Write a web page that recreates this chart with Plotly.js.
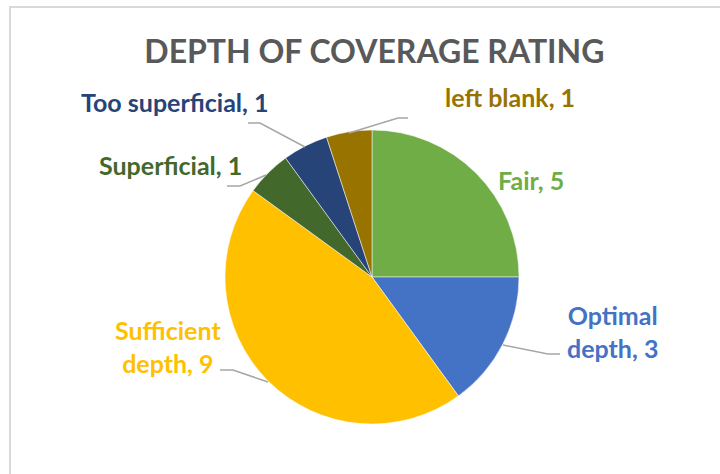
<!DOCTYPE html>
<html><head><meta charset="utf-8">
<script src="https://cdn.plot.ly/plotly-3.0.1.min.js"></script>
<style>html,body{margin:0;padding:0;background:#fff;}#frame{position:absolute;left:9px;top:6px;width:720px;height:480px;border-left:2px solid #d9d9d9;border-top:2px solid #d9d9d9;pointer-events:none;}</style>
</head><body>
<div id="chart" style="width:720px;height:474px;"></div>
<div id="frame"></div>
<script>
const categories = ["Fair", "Optimal depth", "Sufficient depth", "Superficial", "Too superficial", "left blank"];
const values = [5, 3, 9, 1, 1, 1];
const colors = ["#70AD47", "#4472C4", "#FFC000", "#43682B", "#264478", "#997300"];
const labelText = ["Fair, 5", "Optimal<br>depth, 3", "Sufficient<br>depth, 9", "Superficial, 1", "Too superficial, 1", "left blank, 1"];
const labelPos = [[531, 180], [612, 331], [168, 346], [170, 165], [175, 102], [510, 97]];
const leaders = [
  null,
  [[503,345],[548,354],[560,354]],
  [[220,370],[233,370],[268,382]],
  [[227,186],[240,186],[266,175]],
  [[248,123],[260,123],[305,147]],
  [[349,133],[398,118],[408,118]]
];
const W = 720, H = 474;
const px = x => x / W, py = y => 1 - y / H;

const annotations = categories.map((c, i) => ({
  xref: 'paper', yref: 'paper', x: px(labelPos[i][0]), y: py(labelPos[i][1]),
  xanchor: 'center', yanchor: 'middle', showarrow: false, align: 'center',
  text: '<b>' + labelText[i] + '</b>',
  font: {family: 'Lato, "Open Sans", sans-serif', size: 25, color: colors[i]}
}));
const shapes = leaders.filter(l => l).map(l => ({
  type: 'path', xref: 'paper', yref: 'paper',
  path: 'M ' + l.map(p => px(p[0]) + ',' + py(p[1])).join(' L '),
  line: {color: '#A6A6A6', width: 1.5}
}));

Plotly.newPlot('chart', [{
  type: 'pie', labels: categories, values: values, sort: false,
  direction: 'clockwise', rotation: 0,
  marker: {colors: colors, line: {color: '#ffffff', width: 0.5}},
  textinfo: 'none', hoverinfo: 'label+value',
  domain: {x: [225/W, 519/W], y: [py(424), py(130)]}
}], {
  width: W, height: H, showlegend: false,
  margin: {l: 0, r: 0, t: 0, b: 0},
  paper_bgcolor: '#fff',
  title: {text: '<b>DEPTH OF COVERAGE RATING</b>', x: 0.52, xanchor: 'center', y: py(52), yanchor: 'middle',
    font: {family: 'Lato, "Open Sans", sans-serif', size: 32, color: '#595959'}},
  annotations: annotations, shapes: shapes
}, {displayModeBar: false, staticPlot: true});
</script>
</body></html>
